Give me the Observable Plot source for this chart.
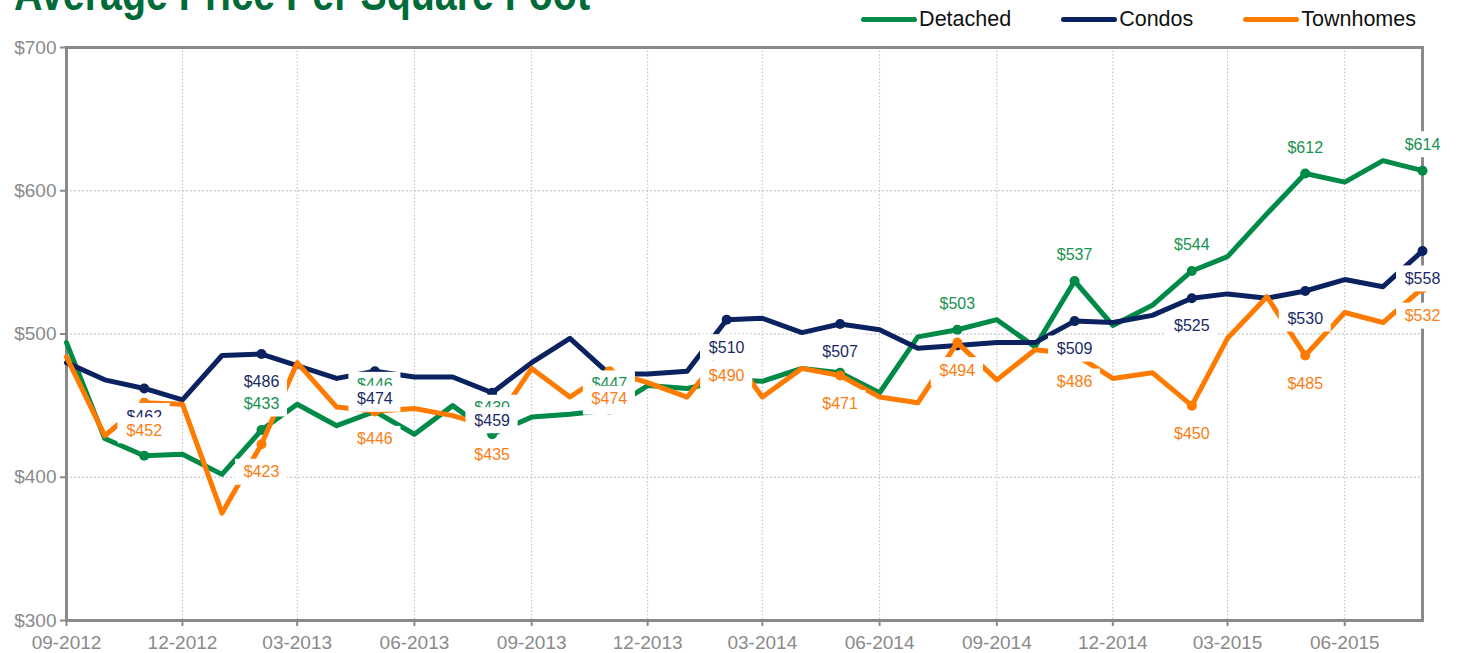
<!DOCTYPE html>
<html><head><meta charset="utf-8">
<script src="https://cdn.jsdelivr.net/npm/d3@7"></script>
<script src="https://cdn.jsdelivr.net/npm/@observablehq/plot@0.6"></script>
<style>
body{margin:0;background:#fff;}
#wrap{position:relative;width:1457px;height:653px;overflow:hidden;font-family:"Liberation Sans",Arial,sans-serif;}
#title{position:absolute;left:14px;top:-30px;font-size:48px;font-weight:bold;color:#006b38;white-space:nowrap;transform-origin:0 0;line-height:1;font-family:"Liberation Sans Narrow","Liberation Sans",Arial,sans-serif;}
#legend{position:absolute;right:41px;top:7px;display:flex;gap:50px;font-size:21.5px;color:#111;}
.item{display:flex;align-items:center;}
.sw{width:56px;height:5px;border-radius:3px;margin-right:2px;}
#chart{position:absolute;left:0;top:0;}
</style></head>
<body><div id="wrap"><div id="chart"></div><div id="title">Average Price Per Square Foot</div><div id="legend"></div></div>
<script>
const months = ["09-2012","10-2012","11-2012","12-2012","01-2013","02-2013","03-2013","04-2013","05-2013","06-2013","07-2013","08-2013","09-2013","10-2013","11-2013","12-2013","01-2014","02-2014","03-2014","04-2014","05-2014","06-2014","07-2014","08-2014","09-2014","10-2014","11-2014","12-2014","01-2015","02-2015","03-2015","04-2015","05-2015","06-2015","07-2015","08-2015"];
const detached  = [494,427,415,416,402,433,451,436,446,430,450,430,442,444,447,464,462,468,467,476,473,459,498,503,510,491,537,506,520,544,554,584,612,606,621,614];
const condos    = [480,468,462,454,485,486,478,469,474,470,470,459,480,497,472,472,474,510,511,501,507,503,490,492,494,494,509,508,513,525,528,525,530,538,533,558];
const townhomes = [484,429,452,451,375,423,480,449,446,448,443,435,476,456,474,466,456,490,456,476,471,456,452,494,468,489,486,469,473,450,497,526,485,515,508,532];
const labeledMonths = ["11-2012","02-2013","05-2013","08-2013","11-2013","02-2014","05-2014","08-2014","11-2014","02-2015","05-2015","08-2015"];
const tickLabels = ["09-2012","12-2012","03-2013","06-2013","09-2013","12-2013","03-2014","06-2014","09-2014","12-2014","03-2015","06-2015"];
const yTicks = [300,400,500,600,700];
const seriesNames = ["Detached","Condos","Townhomes"];
const lineColors = ["#008a47","#0b2260","#ff7b00"];
const textColors = ["#17924f","#1a2a64","#fb7d12"];

const parse = d3.utcParse("%m-%Y");
const seriesValues = [detached, condos, townhomes];
const rows = seriesNames.map((s, k) => months.map((m, i) => ({series: s, month: m, date: parse(m), value: seriesValues[k][i]})));
const labeled = rows.map(r => r.filter(d => labeledMonths.includes(d.month)));
const tickDates = tickLabels.map(parse);
const font = '"Liberation Sans", Arial, sans-serif';

const marks = [
  Plot.gridY({ticks: yTicks.slice(1, -1), stroke: "#bdbdbd", strokeOpacity: 1, strokeDasharray: "2,2"}),
  Plot.gridX({ticks: tickDates.slice(1), stroke: "#bdbdbd", strokeOpacity: 1, strokeDasharray: "1.5,2"}),
  Plot.axisY({ticks: yTicks, tickFormat: d => "$" + d, tickSize: 6, tickPadding: 4, fontSize: 19, color: "#8a8a8a", strokeWidth: 2, label: null}),
  Plot.axisX({ticks: tickDates, tickFormat: d3.utcFormat("%m-%Y"), tickSize: 6, tickPadding: 9, fontSize: 19, color: "#8a8a8a", strokeWidth: 2, label: null}),
  Plot.frame({stroke: "#8a8a8a", strokeWidth: 3})
];
rows.forEach((r, k) => {
  marks.push(Plot.line(r, {x: "date", y: "value", stroke: lineColors[k], strokeWidth: 5, strokeLinejoin: "round", strokeLinecap: "round"}));
  marks.push(Plot.dot(labeled[k], {x: "date", y: "value", r: 5, fill: lineColors[k]}));
});
labeled.forEach((r, k) => {
  const dy = k === 0 ? -26 : 28;
  marks.push(Plot.rect(r, {x1: "date", x2: "date", y1: "value", y2: "value", dy, insetLeft: -26, insetRight: -26, insetTop: -13, insetBottom: -13, fill: "white"}));
  marks.push(Plot.text(r, {x: "date", y: "value", dy, text: d => "$" + d.value, fill: textColors[k], fontSize: 16}));
});

const chart = Plot.plot({
  width: 1457, height: 653,
  marginLeft: 66, marginRight: 35, marginTop: 47, marginBottom: 33,
  x: {type: "utc", domain: [parse(months[0]), parse(months[months.length - 1])], label: null},
  y: {domain: [300, 700], label: null},
  style: {fontFamily: font, background: "transparent"},
  marks
});
document.getElementById("chart").appendChild(chart);

const legend = document.getElementById("legend");
seriesNames.forEach((s, k) => {
  const it = document.createElement("div"); it.className = "item";
  const sw = document.createElement("div"); sw.className = "sw"; sw.style.background = lineColors[k];
  const tx = document.createElement("span"); tx.textContent = s;
  it.appendChild(sw); it.appendChild(tx); legend.appendChild(it);
});
const title = document.getElementById("title");
const w = title.getBoundingClientRect().width;
title.style.transform = `scaleX(${576 / w})`;
</script></body></html>
